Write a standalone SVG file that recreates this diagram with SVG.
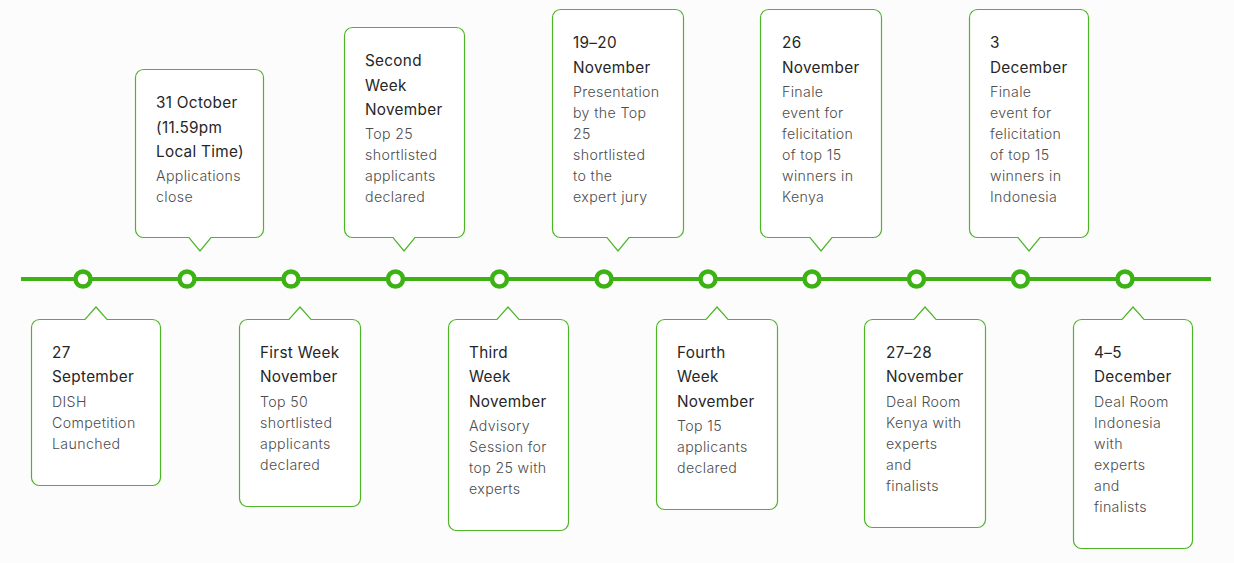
<svg xmlns="http://www.w3.org/2000/svg" width="1234" height="563" viewBox="0 0 1234 563">
<style>
.bg{fill:#fcfcfc}
.box{fill:#ffffff;stroke:#4db526;stroke-width:1.2}
.t{font-family:Inter,"Open Sans","Liberation Sans",sans-serif;font-size:15.3px;font-weight:400;letter-spacing:0.3px;fill:#262626}
.b{font-family:Inter,"Open Sans","Liberation Sans",sans-serif;font-size:14.2px;font-weight:300;letter-spacing:0.35px;fill:#4d4d4d}
.line{stroke:#3db214;stroke-width:4;fill:none}
.dot{fill:#ffffff;stroke:#3db214;stroke-width:4.5}
</style>
<rect class="bg" x="0" y="0" width="1234" height="563"/>
<g id="connectors">
<line class="line" x1="21" y1="279" x2="1211" y2="279"/>
<circle class="dot" cx="83" cy="279" r="7.5"/>
<circle class="dot" cx="187" cy="279" r="7.5"/>
<circle class="dot" cx="291" cy="279" r="7.5"/>
<circle class="dot" cx="395.5" cy="279" r="7.5"/>
<circle class="dot" cx="499.5" cy="279" r="7.5"/>
<circle class="dot" cx="604" cy="279" r="7.5"/>
<circle class="dot" cx="708" cy="279" r="7.5"/>
<circle class="dot" cx="812" cy="279" r="7.5"/>
<circle class="dot" cx="916.5" cy="279" r="7.5"/>
<circle class="dot" cx="1020.5" cy="279" r="7.5"/>
<circle class="dot" cx="1125" cy="279" r="7.5"/>
</g>
<g id="n1">
<path class="box" d="M39.5,319.5 H85 L96,307 L107,319.5 H152.5 A8,8 0 0 1 160.5,327.5 V477.5 A8,8 0 0 1 152.5,485.5 H39.5 A8,8 0 0 1 31.5,477.5 V327.5 A8,8 0 0 1 39.5,319.5 Z"/>
<text class="t" x="52" y="357.5">27</text>
<text class="t" x="52" y="382">September</text>
<text class="b" x="52" y="407">DISH</text>
<text class="b" x="52" y="428">Competition</text>
<text class="b" x="52" y="449">Launched</text>
</g>
<g id="n2">
<path class="box" d="M143.5,69.5 H255.5 A8,8 0 0 1 263.5,77.5 V229.5 A8,8 0 0 1 255.5,237.5 H211 L200,251 L189,237.5 H143.5 A8,8 0 0 1 135.5,229.5 V77.5 A8,8 0 0 1 143.5,69.5 Z"/>
<text class="t" x="156" y="108">31 October</text>
<text class="t" x="156" y="132.5">(11.59pm</text>
<text class="t" x="156" y="157">Local Time)</text>
<text class="b" x="156" y="181">Applications</text>
<text class="b" x="156" y="202">close</text>
</g>
<g id="n3">
<path class="box" d="M247.5,319.5 H289 L300,307 L311,319.5 H352.5 A8,8 0 0 1 360.5,327.5 V498.5 A8,8 0 0 1 352.5,506.5 H247.5 A8,8 0 0 1 239.5,498.5 V327.5 A8,8 0 0 1 247.5,319.5 Z"/>
<text class="t" x="260" y="357.5">First Week</text>
<text class="t" x="260" y="382">November</text>
<text class="b" x="260" y="407">Top 50</text>
<text class="b" x="260" y="428">shortlisted</text>
<text class="b" x="260" y="449">applicants</text>
<text class="b" x="260" y="470">declared</text>
</g>
<g id="n4">
<path class="box" d="M352.5,27.5 H456.5 A8,8 0 0 1 464.5,35.5 V229.5 A8,8 0 0 1 456.5,237.5 H415 L404,251 L393,237.5 H352.5 A8,8 0 0 1 344.5,229.5 V35.5 A8,8 0 0 1 352.5,27.5 Z"/>
<text class="t" x="365" y="66">Second</text>
<text class="t" x="365" y="90.5">Week</text>
<text class="t" x="365" y="115">November</text>
<text class="b" x="365" y="139">Top 25</text>
<text class="b" x="365" y="160">shortlisted</text>
<text class="b" x="365" y="181">applicants</text>
<text class="b" x="365" y="202">declared</text>
</g>
<g id="n5">
<path class="box" d="M456.5,319.5 H497 L508,307 L519,319.5 H560.5 A8,8 0 0 1 568.5,327.5 V522.5 A8,8 0 0 1 560.5,530.5 H456.5 A8,8 0 0 1 448.5,522.5 V327.5 A8,8 0 0 1 456.5,319.5 Z"/>
<text class="t" x="469" y="357.5">Third</text>
<text class="t" x="469" y="382">Week</text>
<text class="t" x="469" y="406.5">November</text>
<text class="b" x="469" y="431">Advisory</text>
<text class="b" x="469" y="452">Session for</text>
<text class="b" x="469" y="473">top 25 with</text>
<text class="b" x="469" y="494">experts</text>
</g>
<g id="n6">
<path class="box" d="M560.5,9.5 H675.5 A8,8 0 0 1 683.5,17.5 V229.5 A8,8 0 0 1 675.5,237.5 H629 L618,251 L607,237.5 H560.5 A8,8 0 0 1 552.5,229.5 V17.5 A8,8 0 0 1 560.5,9.5 Z"/>
<text class="t" x="573" y="48">19–20</text>
<text class="t" x="573" y="72.5">November</text>
<text class="b" x="573" y="97">Presentation</text>
<text class="b" x="573" y="118">by the Top</text>
<text class="b" x="573" y="139">25</text>
<text class="b" x="573" y="160">shortlisted</text>
<text class="b" x="573" y="181">to the</text>
<text class="b" x="573" y="202">expert jury</text>
</g>
<g id="n7">
<path class="box" d="M664.5,319.5 H706 L717,307 L728,319.5 H769.5 A8,8 0 0 1 777.5,327.5 V501.5 A8,8 0 0 1 769.5,509.5 H664.5 A8,8 0 0 1 656.5,501.5 V327.5 A8,8 0 0 1 664.5,319.5 Z"/>
<text class="t" x="677" y="357.5">Fourth</text>
<text class="t" x="677" y="382">Week</text>
<text class="t" x="677" y="406.5">November</text>
<text class="b" x="677" y="431">Top 15</text>
<text class="b" x="677" y="452">applicants</text>
<text class="b" x="677" y="473">declared</text>
</g>
<g id="n8">
<path class="box" d="M768.5,9.5 H873.5 A8,8 0 0 1 881.5,17.5 V229.5 A8,8 0 0 1 873.5,237.5 H832 L821,251 L810,237.5 H768.5 A8,8 0 0 1 760.5,229.5 V17.5 A8,8 0 0 1 768.5,9.5 Z"/>
<text class="t" x="782" y="48">26</text>
<text class="t" x="782" y="72.5">November</text>
<text class="b" x="782" y="97">Finale</text>
<text class="b" x="782" y="118">event for</text>
<text class="b" x="782" y="139">felicitation</text>
<text class="b" x="782" y="160">of top 15</text>
<text class="b" x="782" y="181">winners in</text>
<text class="b" x="782" y="202">Kenya</text>
</g>
<g id="n9">
<path class="box" d="M872.5,319.5 H914 L925,307 L936,319.5 H977.5 A8,8 0 0 1 985.5,327.5 V519.5 A8,8 0 0 1 977.5,527.5 H872.5 A8,8 0 0 1 864.5,519.5 V327.5 A8,8 0 0 1 872.5,319.5 Z"/>
<text class="t" x="886" y="357.5">27–28</text>
<text class="t" x="886" y="382">November</text>
<text class="b" x="886" y="407">Deal Room</text>
<text class="b" x="886" y="428">Kenya with</text>
<text class="b" x="886" y="449">experts</text>
<text class="b" x="886" y="470">and</text>
<text class="b" x="886" y="491">finalists</text>
</g>
<g id="n10">
<path class="box" d="M977.5,9.5 H1080.5 A8,8 0 0 1 1088.5,17.5 V229.5 A8,8 0 0 1 1080.5,237.5 H1040 L1029,251 L1018,237.5 H977.5 A8,8 0 0 1 969.5,229.5 V17.5 A8,8 0 0 1 977.5,9.5 Z"/>
<text class="t" x="990" y="48">3</text>
<text class="t" x="990" y="72.5">December</text>
<text class="b" x="990" y="97">Finale</text>
<text class="b" x="990" y="118">event for</text>
<text class="b" x="990" y="139">felicitation</text>
<text class="b" x="990" y="160">of top 15</text>
<text class="b" x="990" y="181">winners in</text>
<text class="b" x="990" y="202">Indonesia</text>
</g>
<g id="n11">
<path class="box" d="M1081.5,319.5 H1122 L1133,307 L1144,319.5 H1184.5 A8,8 0 0 1 1192.5,327.5 V540.5 A8,8 0 0 1 1184.5,548.5 H1081.5 A8,8 0 0 1 1073.5,540.5 V327.5 A8,8 0 0 1 1081.5,319.5 Z"/>
<text class="t" x="1094" y="357.5">4–5</text>
<text class="t" x="1094" y="382">December</text>
<text class="b" x="1094" y="407">Deal Room</text>
<text class="b" x="1094" y="428">Indonesia</text>
<text class="b" x="1094" y="449">with</text>
<text class="b" x="1094" y="470">experts</text>
<text class="b" x="1094" y="491">and</text>
<text class="b" x="1094" y="512">finalists</text>
</g>
</svg>
